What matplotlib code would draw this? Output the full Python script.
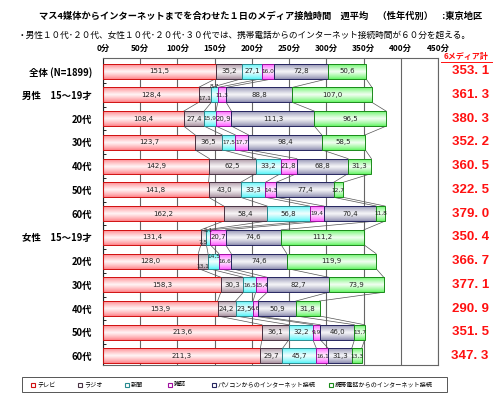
import numpy as np
import matplotlib
matplotlib.use('Agg')
import matplotlib.pyplot as plt
from matplotlib.patches import Rectangle
from matplotlib.colors import to_rgb

plt.rcParams['font.family'] = ['Noto Sans CJK JP', 'DejaVu Sans']

# ---------------- data ----------------
categories = ['全体 (N=1899)', '男性　15～19才', '20代', '30代', '40代', '50代', '60代',
              '女性　15～19才', '20代', '30代', '40代', '50代', '60代']
tv         = [151.5, 128.4, 108.4, 123.7, 142.9, 141.8, 162.2, 131.4, 128.0, 158.3, 153.9, 213.6, 211.3]
radio      = [35.2, 17.1, 27.4, 36.5, 62.5, 43.0, 58.4, 7.5, 13.1, 30.3, 24.2, 36.1, 29.7]
newspaper  = [27.1, 8.7, 15.9, 17.5, 33.2, 33.3, 56.8, 5.1, 14.5, 16.5, 23.5, 32.2, 45.7]
magazine   = [16.0, 11.3, 20.9, 17.7, 21.8, 14.3, 19.4, 20.7, 16.6, 15.4, 6.6, 9.9, 16.1]
pc_net     = [72.8, 88.8, 111.3, 98.4, 68.8, 77.4, 70.4, 74.6, 74.6, 82.7, 50.9, 46.0, 31.3]
mobile_net = [50.6, 107.0, 96.5, 58.5, 31.3, 12.7, 11.8, 111.2, 119.9, 73.9, 31.8, 13.7, 13.3]
totals     = [353.1, 361.3, 380.3, 352.2, 360.5, 322.5, 379.0, 350.4, 366.7, 377.1, 290.9, 351.5, 347.3]
series_names = ['テレビ', 'ラジオ', '新聞', '雑誌',
                'パソコンからのインターネット接続', '携帯電話からのインターネット接続']
xticks = [0, 50, 100, 150, 200, 250, 300, 350, 400, 450]
xtick_labels = ['0分', '50分', '100分', '150分', '200分', '250分', '300分', '350分', '400分', '450分']

title = 'マス4媒体からインターネットまでを合わせた１日のメディア接触時間　週平均　（性年代別）　:東京地区'
subtitle = '・男性１０代･２０代、女性１０代･２０代･３０代では、携帯電話からのインターネット接続時間が６０分を超える。'
total_header = '6メディア計'

# ---------------- style ----------------
face_colors = ['#ff7f86', '#a8909f', '#55f4f8', '#ff5cff', '#8c8cae', '#62f562']
edge_colors = ['#d01010', '#4a3444', '#2a8a90', '#a010a0', '#262660', '#1a8a1a']
# vertical nudges of a few crowded value labels (row, series) -> offset in row units
label_nudge = {(1, 1): 0.14, (1, 2): -0.36, (7, 1): 0.2, (7, 2): -0.3,
               (8, 1): 0.2, (8, 2): -0.22}

series = [tv, radio, newspaper, magazine, pc_net, mobile_net]

fig = plt.figure(figsize=(5.0, 3.96), dpi=100)
ax = fig.add_axes([0.206, 0.0783, 0.67, 0.775])

n = len(categories)
rows = np.arange(n)
h = 0.63

def gradient(color, npts=64):
    base = np.array(to_rgb(color))
    t = np.linspace(0, 1, npts)
    w = 0.92 * (1 - np.abs(2 * t - 1)) ** 0.8
    img = base[None, :] * (1 - w[:, None]) + w[:, None]
    return img[:, None, :]

cums = []
for i in rows:
    left = 0.0
    bounds = []
    for s, data in enumerate(series):
        wv = data[i]
        ax.imshow(gradient(face_colors[s]), extent=[left, left + wv, i + h / 2, i - h / 2],
                  aspect='auto', interpolation='bilinear', zorder=2)
        ax.add_patch(Rectangle((left, i - h / 2), wv, h, fill=False,
                               edgecolor=edge_colors[s], lw=0.7, zorder=3))
        fs = 5 if wv >= 20 else 4.2
        ax.text(left + wv / 2, i + label_nudge.get((i, s), 0.0), f'{wv:.1f}'.replace('.', ','),
                ha='center', va='center', fontsize=fs, color='#222222', zorder=4,
                family=['DejaVu Sans'])
        left += wv
        bounds.append(left)
    cums.append(bounds)

# series lines between adjacent bars
for i in range(n - 1):
    for k in range(len(series)):
        ax.plot([cums[i][k], cums[i + 1][k]], [i + h / 2, i + 1 - h / 2],
                color='#555555', lw=0.5, zorder=1)

ax.set_xlim(0, 450)
ax.set_ylim(n - 1 + 0.38, -0.55)

ax.set_xticks(xticks)
ax.set_xticklabels(xtick_labels, fontsize=6, fontweight='bold')
ax.xaxis.tick_top()
ax.tick_params(axis='x', length=0, pad=3)
ax.grid(axis='x', color='#666666', lw=0.8, zorder=0.5)
ax.set_axisbelow(True)

ax.set_yticks(rows)
ax.set_yticklabels(categories, fontsize=6.8, fontweight='bold')
ax.set_yticks(np.arange(n - 1) + 0.5, minor=True)
ax.tick_params(axis='y', which='major', length=0, pad=8)
ax.tick_params(axis='y', which='minor', length=2.5, direction='in', width=0.6)

for side in ['top', 'right', 'bottom']:
    ax.spines[side].set_color('#666666')
    ax.spines[side].set_linewidth(0.8)
ax.spines['left'].set_color('#222222')
ax.spines['left'].set_linewidth(0.8)

# totals on the right
for i in rows:
    ax.text(1.096, i, f'{totals[i]:.1f}'.replace('.', '. '), transform=ax.get_yaxis_transform(),
            ha='center', va='center', fontsize=9.5, fontweight='bold', color='#ff1010',
            family=['Liberation Sans', 'DejaVu Sans'])

fig.text(466 / 500, 1 - 57 / 396, total_header, ha='center', va='center', fontsize=5.8,
         fontweight='bold', color='#ff1010', style='italic')
fig.add_artist(plt.Line2D([441 / 500, 492 / 500], [1 - 61.5 / 396] * 2, color='#ff1010', lw=0.7))

# titles
fig.text(0.522, 1 - 16 / 396, title, ha='center', va='center', fontsize=6.65, fontweight='bold')
fig.text(0.036, 1 - 35 / 396, subtitle, ha='left', va='center', fontsize=6.25)

# legend
fig.add_artist(Rectangle((22 / 500, 1 - 392 / 396), 425 / 500, 15 / 396, transform=fig.transFigure,
                         fill=False, edgecolor='#555555', lw=0.7))
leg_x = [33, 80, 127, 170, 214, 331]
ly = 1 - 384.5 / 396
for s, name in enumerate(series_names):
    fig.add_artist(Rectangle(((leg_x[s] - 2) / 500, ly - 2 / 396), 4 / 500, 4 / 396,
                             transform=fig.transFigure, facecolor='white',
                             edgecolor=edge_colors[s], lw=0.8))
    fig.text((leg_x[s] + 4) / 500, ly, name, ha='left', va='center', fontsize=4.4)

fig.savefig('out.png', dpi=100)
